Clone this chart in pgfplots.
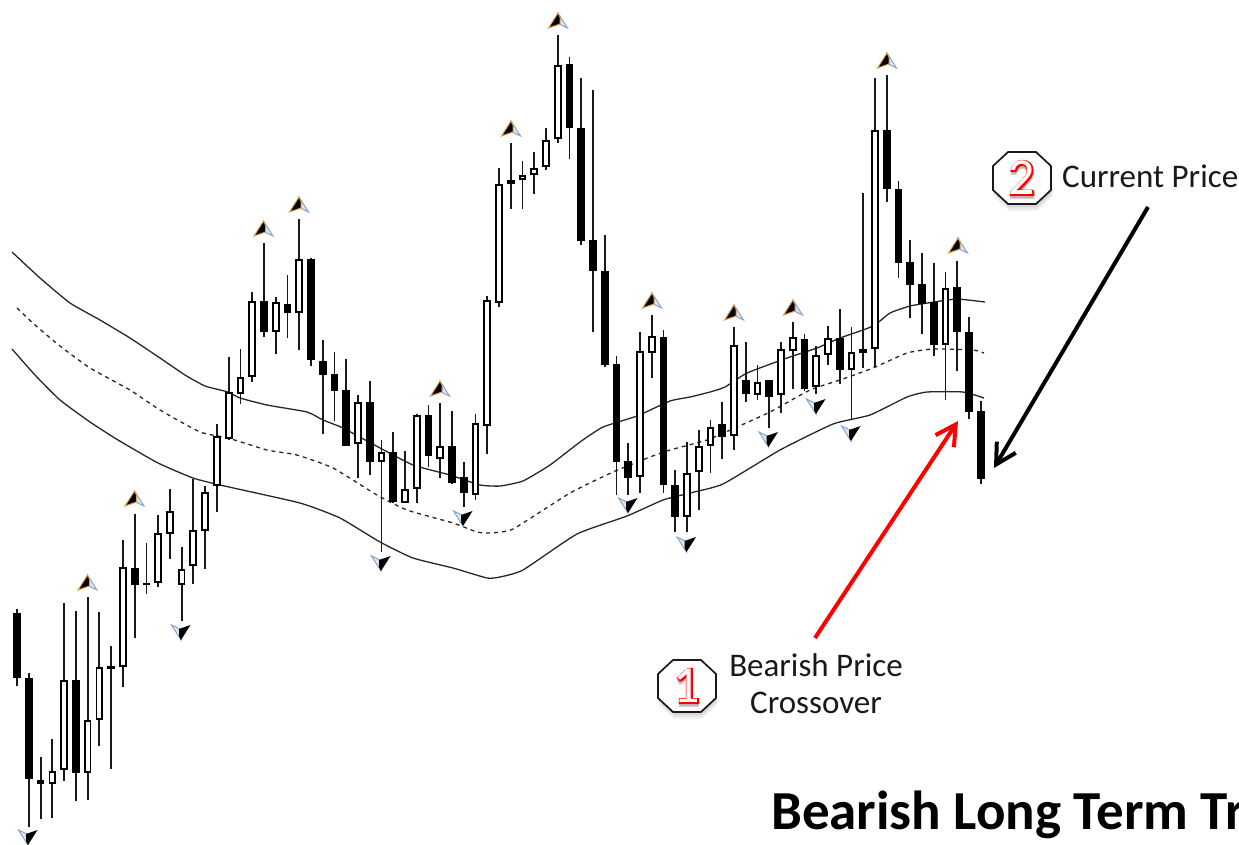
\documentclass[border=0pt]{standalone}
\usepackage{fontspec}
\usepackage{pgfplots}
\usepackage{pgfplotstable}
\pgfplotsset{compat=1.18}
\usetikzlibrary{arrows.meta}
\setmainfont{Carlito}
\newfontfamily\numfat[FakeBold=5]{Carlito}

% candles, all values in picture pixels (y counted from the top)
% x high top bottom low fill
\pgfplotstableread{
x high top bot low col
17 609 613 678 686 black
29 673 678 779 827 black
40.6 757 780 784 819 black
52.3 739 771 784 818 white
64 603 680 770 781 white
76 611 680 773 801 black
87.7 597 720 773 800 white
99.3 612 667 720 746 white
111 646 666 669 769 white
123 540 567 667 687 white
135 514 568 585 638 black
146.5 543 583 585 594 black
158 515 533 583 587 white
170 489 511 534 559 white
181.7 547 569 585 621 white
193 479 530 566 584 white
205 486 492 531 569 white
217 424 436 486 512 white
229 357 392 439 440 white
240.5 349 377 394 404 white
252 292 301 377 382 white
264 243 301 332 337 black
276 297 302 332 354 white
287.5 275 304 313 338 black
299 219 259 313 350 white
311 258 259 360 366 black
323 340 361 375 434 black
334.5 352 374 391 421 black
346 359 390 446 446 black
358 395 402 444 478 white
370 381 402 462 475 black
381.5 440 452 462 552 white
393 432 452 502 503 black
405 451 489 503 503 white
417 414 415 489 503 white
428.5 405 415 456 467 black
440 403 446 459 478 white
452 411 446 483 484 black
464 462 477 493 507 black
475.5 414 423 495 500 white
487 296 300 426 454 white
499 168 184 303 307 white
511 143 180 184 209 white
522.5 161 175 180 209 white
534 152 168 175 194 white
546 128 140 167 170 white
558 35 65 139 143 white
569.5 57 64 128 159 black
581 78 128 241 245 black
593 90 240 271 332 black
605 235 271 365 367 black
616.5 356 364 462 495 black
628 443 461 478 495 black
640 332 351 477 493 white
652 315 336 353 378 white
663.5 330 337 485 493 black
675 470 485 517 532 black
687 442 473 517 532 white
699 430 446 472 510 white
710.5 420 427 446 473 white
722 402 424 437 459 black
734 327 345 436 450 white
746 342 380 394 402 black
757.5 365 382 395 400 white
769 380 380 397 428 black
781 342 349 395 413 white
793 322 337 351 389 white
804.5 334 339 389 391 black
816 346 355 387 394 white
828 326 338 355 365 white
840 309 338 370 384 black
851.5 327 352 370 420 white
863 193 349 353 368 white
875 78 130 349 367 white
887 75 130 189 202 black
898.5 181 189 263 278 black
910 240 262 285 318 black
922 253 284 304 334 black
934 263 302 345 356 black
945.5 272 288 345 400 white
957 261 287 332 371 black
969 317 332 412 419 black
981 401 411 479 484 black
}\candles

\pgfplotstablegetrowsof{\candles}
\pgfmathtruncatemacro{\lastrow}{\pgfplotsretval-1}

\definecolor{fringeB}{RGB}{135,165,200}
\definecolor{fringeO}{RGB}{225,160,90}
\definecolor{dartR}{RGB}{225,230,238}

% the little fractal darts above and below the candles
\pgfdeclareplotmark{fracup}{%
  \pgfsetlinewidth{1pt}\pgfsetmiterjoin
  \pgfsetstrokecolor{fringeB}\pgfsetfillcolor{dartR}
  \pgfpathmoveto{\pgfqpoint{0pt}{8pt}}
  \pgfpathlineto{\pgfqpoint{9.5pt}{-7pt}}
  \pgfpathlineto{\pgfqpoint{0pt}{-2.5pt}}
  \pgfpathclose\pgfusepath{fill,stroke}
  \pgfsetstrokecolor{fringeO}\pgfsetfillcolor{black}
  \pgfpathmoveto{\pgfqpoint{0pt}{8pt}}
  \pgfpathlineto{\pgfqpoint{-9.5pt}{-7pt}}
  \pgfpathlineto{\pgfqpoint{2pt}{-3pt}}
  \pgfpathlineto{\pgfqpoint{2pt}{4pt}}
  \pgfpathclose\pgfusepath{fill,stroke}
}
\pgfdeclareplotmark{fracdown}{%
  \pgfsetlinewidth{1pt}\pgfsetmiterjoin
  \pgfsetstrokecolor{fringeB}\pgfsetfillcolor{dartR}
  \pgfpathmoveto{\pgfqpoint{0pt}{-8pt}}
  \pgfpathlineto{\pgfqpoint{-9.5pt}{7pt}}
  \pgfpathlineto{\pgfqpoint{0pt}{2.5pt}}
  \pgfpathclose\pgfusepath{fill,stroke}
  \pgfsetstrokecolor{black}\pgfsetfillcolor{black}
  \pgfpathmoveto{\pgfqpoint{0pt}{-8pt}}
  \pgfpathlineto{\pgfqpoint{9.5pt}{7pt}}
  \pgfpathlineto{\pgfqpoint{-2pt}{3pt}}
  \pgfpathlineto{\pgfqpoint{-2pt}{-4pt}}
  \pgfpathclose\pgfusepath{fill}
}

\newcommand{\octagon}[3][]{% centre x, y
  \path[#1] (#2-29,#3-12) -- (#2-14,#3-26) -- (#2+14,#3-26) -- (#2+29,#3-12)
    -- (#2+29,#3+12) -- (#2+14,#3+26) -- (#2-14,#3+26) -- (#2-29,#3+12) -- cycle;}
\newcommand{\badge}[3]{%
  \octagon[fill=black,opacity=0.05]{#1+1}{#2+7}
  \octagon[fill=black,opacity=0.05]{#1+1}{#2+5}
  \octagon[fill=black,opacity=0.06]{#1+1}{#2+3}
  \octagon[fill=white,draw=black!90,line width=1.7pt]{#1}{#2}
  \node[text=black!40,opacity=.45,font=\numfat\fontsize{52}{52}\selectfont] at (#1,#2+3) {#3};
  \node[text=red,font=\numfat\fontsize{52}{52}\selectfont] at (#1,#2) {#3};
  \node[text=white,font=\fontsize{52}{52}\selectfont] at (#1,#2) {#3};}

\begin{document}
\begin{tikzpicture}
\useasboundingbox (0,0) rectangle (1239pt,844pt);
\clip (0,0) rectangle (1239pt,844pt);
\begin{axis}[
    at={(0,0)}, anchor=south west,
    scale only axis, width=1239pt, height=844pt,
    xmin=0, xmax=1239, ymin=0, ymax=844,
    y dir=reverse,
    hide axis,
    clip=false,
]

% bands
\addplot[black!85, line width=1.3pt, smooth, tension=0.3] coordinates {
    (12,252) (40,278) (70,303) (100,320) (130,338) (160,358) (185,375) (205,386)
    (228,392) (240,398) (267,405) (307,412) (323,420) (343,428) (380,448)
    (413,465) (450,475) (480,485) (500,486) (523,481) (550,465) (580,442)
    (603,427) (637,416) (670,401) (690,397) (710,392) (725,387) (747,373)
    (787,358) (817,348) (840,338) (863,330) (875,325) (890,313) (910,306)
    (934,302) (957,299) (985,302)
};
\addplot[black!85, line width=1.3pt, dash pattern=on 4pt off 4pt, smooth, tension=0.3] coordinates {
    (17,308) (35,325) (60,346) (90,368) (130,390) (160,410) (200,432) (228,438)
    (267,450) (297,455) (333,468) (377,495) (407,510) (453,523) (477,532)
    (490,533) (513,529) (570,493) (613,472) (650,457) (670,450) (707,440)
    (737,427) (770,412) (810,390) (840,380) (873,368) (907,353) (933,349)
    (973,350) (984,353)
};
\addplot[black!85, line width=1.3pt, smooth, tension=0.3] coordinates {
    (12,349) (35,375) (60,400) (90,422) (118,440) (158,463) (193,478) (220,485)
    (300,503) (340,518) (380,542) (413,558) (453,568) (487,578) (500,577) (523,570)
    (577,534) (627,516) (663,500) (690,493) (723,484) (780,450) (833,424)
    (870,415) (907,397) (927,392) (963,392) (984,398)
};

% candles
\pgfplotsforeachungrouped \i in {0,...,\lastrow}{
    \pgfplotstablegetelem{\i}{x}\of{\candles}\let\cx\pgfplotsretval
    \pgfplotstablegetelem{\i}{high}\of{\candles}\let\chi\pgfplotsretval
    \pgfplotstablegetelem{\i}{top}\of{\candles}\let\ctop\pgfplotsretval
    \pgfplotstablegetelem{\i}{bot}\of{\candles}\let\cbot\pgfplotsretval
    \pgfplotstablegetelem{\i}{low}\of{\candles}\let\clo\pgfplotsretval
    \pgfplotstablegetelem{\i}{col}\of{\candles}\let\ccol\pgfplotsretval
    \pgfmathsetmacro{\xa}{\cx-2.7}
    \pgfmathsetmacro{\xb}{\cx+2.7}
    \pgfmathsetmacro{\ya}{\ctop+0.8}
    \pgfmathsetmacro{\yb}{max(\cbot-0.8,\ya+0.8)}
    \edef\onecandle{
        \noexpand\addplot[black!90, line width=1.9pt, forget plot]
            coordinates {(\cx,\chi) (\cx,\clo)};
        \noexpand\addplot[draw=black, fill=\ccol, line width=1.7pt, forget plot]
            coordinates {(\xa,\ya) (\xb,\ya) (\xb,\yb) (\xa,\yb)} -- cycle;
    }
    \onecandle
}

% fractal arrows
\addplot[only marks, mark=fracup, forget plot] coordinates {
    (134.5,499) (87.5,583) (263.5,229) (299,205) (440,389) (511,129) (558,21)
    (652,301) (734,313) (793,308) (887,61) (958,246)
};
\addplot[only marks, mark=fracdown, forget plot] coordinates {
    (28,837) (181,632) (381,563) (463,518) (628,505) (686.5,544) (768.5,439)
    (816,406) (851,433)
};

% annotations
\draw[-{Straight Barb[length=20pt,width=22pt,line width=4pt]}, red, line width=4pt]
    (815,638) -- (958,421);
\draw[-{Straight Barb[length=20pt,width=22pt,line width=4pt]}, black, line width=4pt]
    (1148,207) -- (994,468);

\badge{687}{686}{1}
\badge{1022}{178}{2}

\node[anchor=west, inner sep=0pt, text=black!90, font=\fontsize{33}{33}\selectfont] at (1062,176) {Current Price};
\node[text=black!90, font=\fontsize{33}{33}\selectfont] at (816,665) {Bearish Price};
\node[text=black!90, font=\fontsize{33}{33}\selectfont] at (816,703) {Crossover};
\node[anchor=west, inner sep=0pt, text=black, font=\bfseries\fontsize{55}{55}\selectfont] at (771,815) {Bearish Long Term Tr};

\end{axis}
\end{tikzpicture}
\end{document}
